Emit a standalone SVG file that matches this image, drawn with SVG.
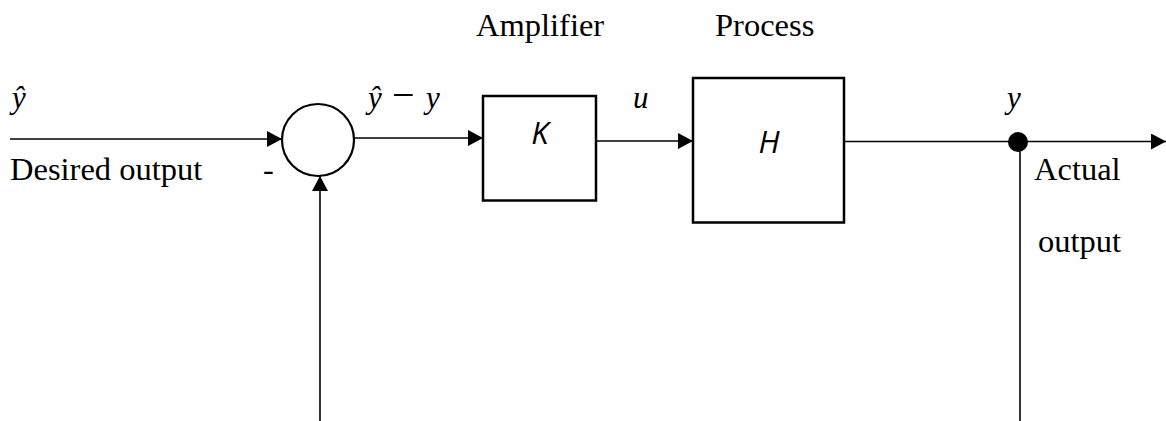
<svg xmlns="http://www.w3.org/2000/svg" width="1166" height="421" viewBox="0 0 1166 421">
<style>
.t{font-family:"Liberation Serif","Times New Roman",serif;font-size:32.5px;fill:#000}
.m{font-family:"Liberation Serif","Times New Roman",serif;font-style:italic;font-size:31px;fill:#000}
.s{font-family:"Open Sans","DejaVu Sans",sans-serif;font-style:italic;font-size:31px;fill:#000}
.box{fill:#fff;stroke:#000;stroke-width:2.5}
.ln{fill:none;stroke:#000;stroke-width:1.6}
</style>
<defs>
<marker id="ah" viewBox="0 0 15 16" refX="15" refY="8" markerWidth="15" markerHeight="16" markerUnits="userSpaceOnUse" orient="auto">
<path d="M0,0 L15,8 L0,16 Z" fill="#000"/>
</marker>
</defs>
<g id="connectors">
<line class="ln" x1="10" y1="139" x2="282" y2="139" marker-end="url(#ah)"/>
<line class="ln" x1="355" y1="138" x2="483" y2="138" marker-end="url(#ah)"/>
<line class="ln" x1="596" y1="141" x2="693" y2="141" marker-end="url(#ah)"/>
<line class="ln" x1="844" y1="141.5" x2="1166" y2="141.5" marker-end="url(#ah)"/>
<line class="ln" x1="1020" y1="142" x2="1020" y2="421"/>
<line class="ln" x1="320" y1="421" x2="320" y2="176" marker-end="url(#ah)"/>
</g>
<g id="sum">
<circle cx="318" cy="140" r="36" fill="#fff" stroke="#000" stroke-width="2.2"/>
<text class="t" x="263" y="180">-</text>
</g>
<g id="amplifier">
<rect class="box" x="483" y="96" width="113" height="104.5"/>
<text class="s" x="540" y="144" text-anchor="middle">K</text>
<text class="t" x="476" y="36">Amplifier</text>
</g>
<g id="process">
<rect class="box" x="693" y="78" width="151" height="144.5"/>
<text class="s" x="769" y="153" text-anchor="middle">H</text>
<text class="t" x="715" y="36">Process</text>
</g>
<g id="branch">
<circle cx="1018" cy="142" r="10" fill="#000"/>
<text class="t" x="1034" y="180">Actual</text>
<text class="t" x="1038" y="252">output</text>
</g>
<g id="labels">
<text class="m" x="12" y="108">ŷ</text>
<text class="t" x="10" y="180">Desired output</text>
<text class="m" x="368" y="108">ŷ<tspan x="392" font-style="normal" font-size="40">−</tspan><tspan x="426">y</tspan></text>
<text class="m" x="633" y="108">u</text>
<text class="m" x="1007" y="108">y</text>
</g>
</svg>
